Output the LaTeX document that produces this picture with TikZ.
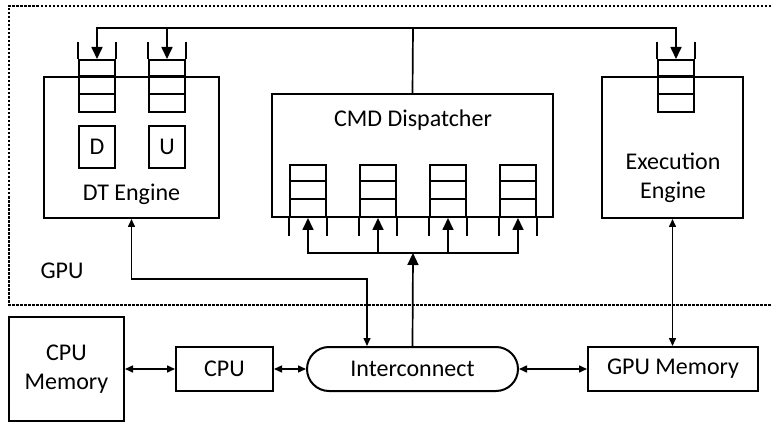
\documentclass[tikz,border=0pt]{standalone}
\usepackage{fontspec}
\setmainfont{Carlito}
\usetikzlibrary{arrows.meta}

\tikzset{
  box/.style={draw, line width=2pt, inner sep=0pt},
  queue/.style={draw, line width=2pt, inner sep=0pt, minimum width=36pt, minimum height=52pt},
  qline/.style={line width=2pt},
  link/.style={line width=1.7pt},
  arr/.style={line width=1.7pt, -{Triangle[length=12pt,width=11pt]}},
  dbl/.style={line width=1.5pt, {Triangle[length=8pt,width=7pt]}-{Triangle[length=8pt,width=7pt]}},
  lbl/.style={font=\fontsize{24}{29}\selectfont, align=center}
}

\begin{document}
\begin{tikzpicture}[x=1pt, y=-1pt]

 \useasboundingbox (0,0) rectangle (771,422);

 % gpu frame, open on the right
 \draw[line width=2pt, dash pattern=on 2.5pt off 1.5pt] (771,6) -- (9,6) -- (9,305) -- (771,305);
 \node[lbl] (gpulbl) at (62,271) {GPU};

 % engines
 \node[box, minimum width=175pt, minimum height=141pt] (dt) at (131.5,147.5) {};
 \node[lbl] (dtlbl) at (131.5,194) {DT Engine};
 \node[box, lbl, minimum width=36pt, minimum height=42pt] (dmod) at (97,147) {D};
 \node[box, lbl, minimum width=36pt, minimum height=42pt] (umod) at (167,147) {U};

 \node[box, minimum width=281pt, minimum height=123pt] (cmd) at (412.5,155.5) {};
 \node[lbl] (cmdlbl) at (413,120) {CMD Dispatcher};

 \node[box, minimum width=141pt, minimum height=141pt] (exe) at (672.5,147.5) {};
 \node[lbl] (exelbl) at (673,178) {Execution\\Engine};

 % queues fed from the top
 \foreach \q/\x in {qa/97, qb/167, qe/676} {
   \node[queue] (\q) at (\x,86) {};
   \draw[qline] ([yshift=-17.33pt]\q.north west) -- ([yshift=-17.33pt]\q.north east);
   \draw[qline] ([yshift=-34.67pt]\q.north west) -- ([yshift=-34.67pt]\q.north east);
   \draw[qline] (\q.north west) -- ++(0,-17);
   \draw[qline] (\q.north east) -- ++(0,-17);
 }

 % queues fed from the bottom
 \foreach \i/\x in {1/308, 2/378, 3/448, 4/518} {
   \node[queue] (c\i) at (\x,191) {};
   \draw[qline] ([yshift=-17.33pt]c\i.north west) -- ([yshift=-17.33pt]c\i.north east);
   \draw[qline] ([yshift=-34.67pt]c\i.north west) -- ([yshift=-34.67pt]c\i.north east);
   \draw[qline] (c\i.south west) -- ++(0,18);
   \draw[qline] (c\i.south east) -- ++(0,18);
 }

 % host side
 \node[box, lbl, minimum width=115pt, minimum height=104pt] (cpumem) at (66.5,369) {CPU\\Memory};
 \node[box, lbl, minimum width=97pt, minimum height=44pt] (cpu) at (224.5,369) {CPU};
 \node[box, lbl, minimum width=211pt, minimum height=44pt, rounded corners=22pt] (ic) at (412.5,369) {Interconnect};
 \node[box, lbl, minimum width=170pt, minimum height=44pt] (gpumem) at (673,369) {GPU Memory};

 % command bus
 \coordinate (bus) at (413,28);
 \draw[link] (cmd.north) -- (bus);
 \draw[arr] (bus) -| (qa.north);
 \draw[arr] (bus) -| (qb.north);
 \draw[arr] (bus) -| (qe.north);

 \coordinate (fan) at (413,253);
 \draw[arr] (ic.north) -- (fan);
 \foreach \i in {1,...,4}
   \draw[arr] (fan) -| (c\i.south);

 % data paths
 \coordinate (dtbend) at (367,279);
 \draw[dbl] (dt.south) |- (dtbend) -- (dtbend |- ic.north);
 \draw[dbl] (exe.south) -- (exe.south |- gpumem.north);
 \draw[dbl] (cpumem) -- (cpu);
 \draw[dbl] (cpu) -- (ic);
 \draw[dbl] (ic) -- (gpumem);

\end{tikzpicture}
\end{document}
